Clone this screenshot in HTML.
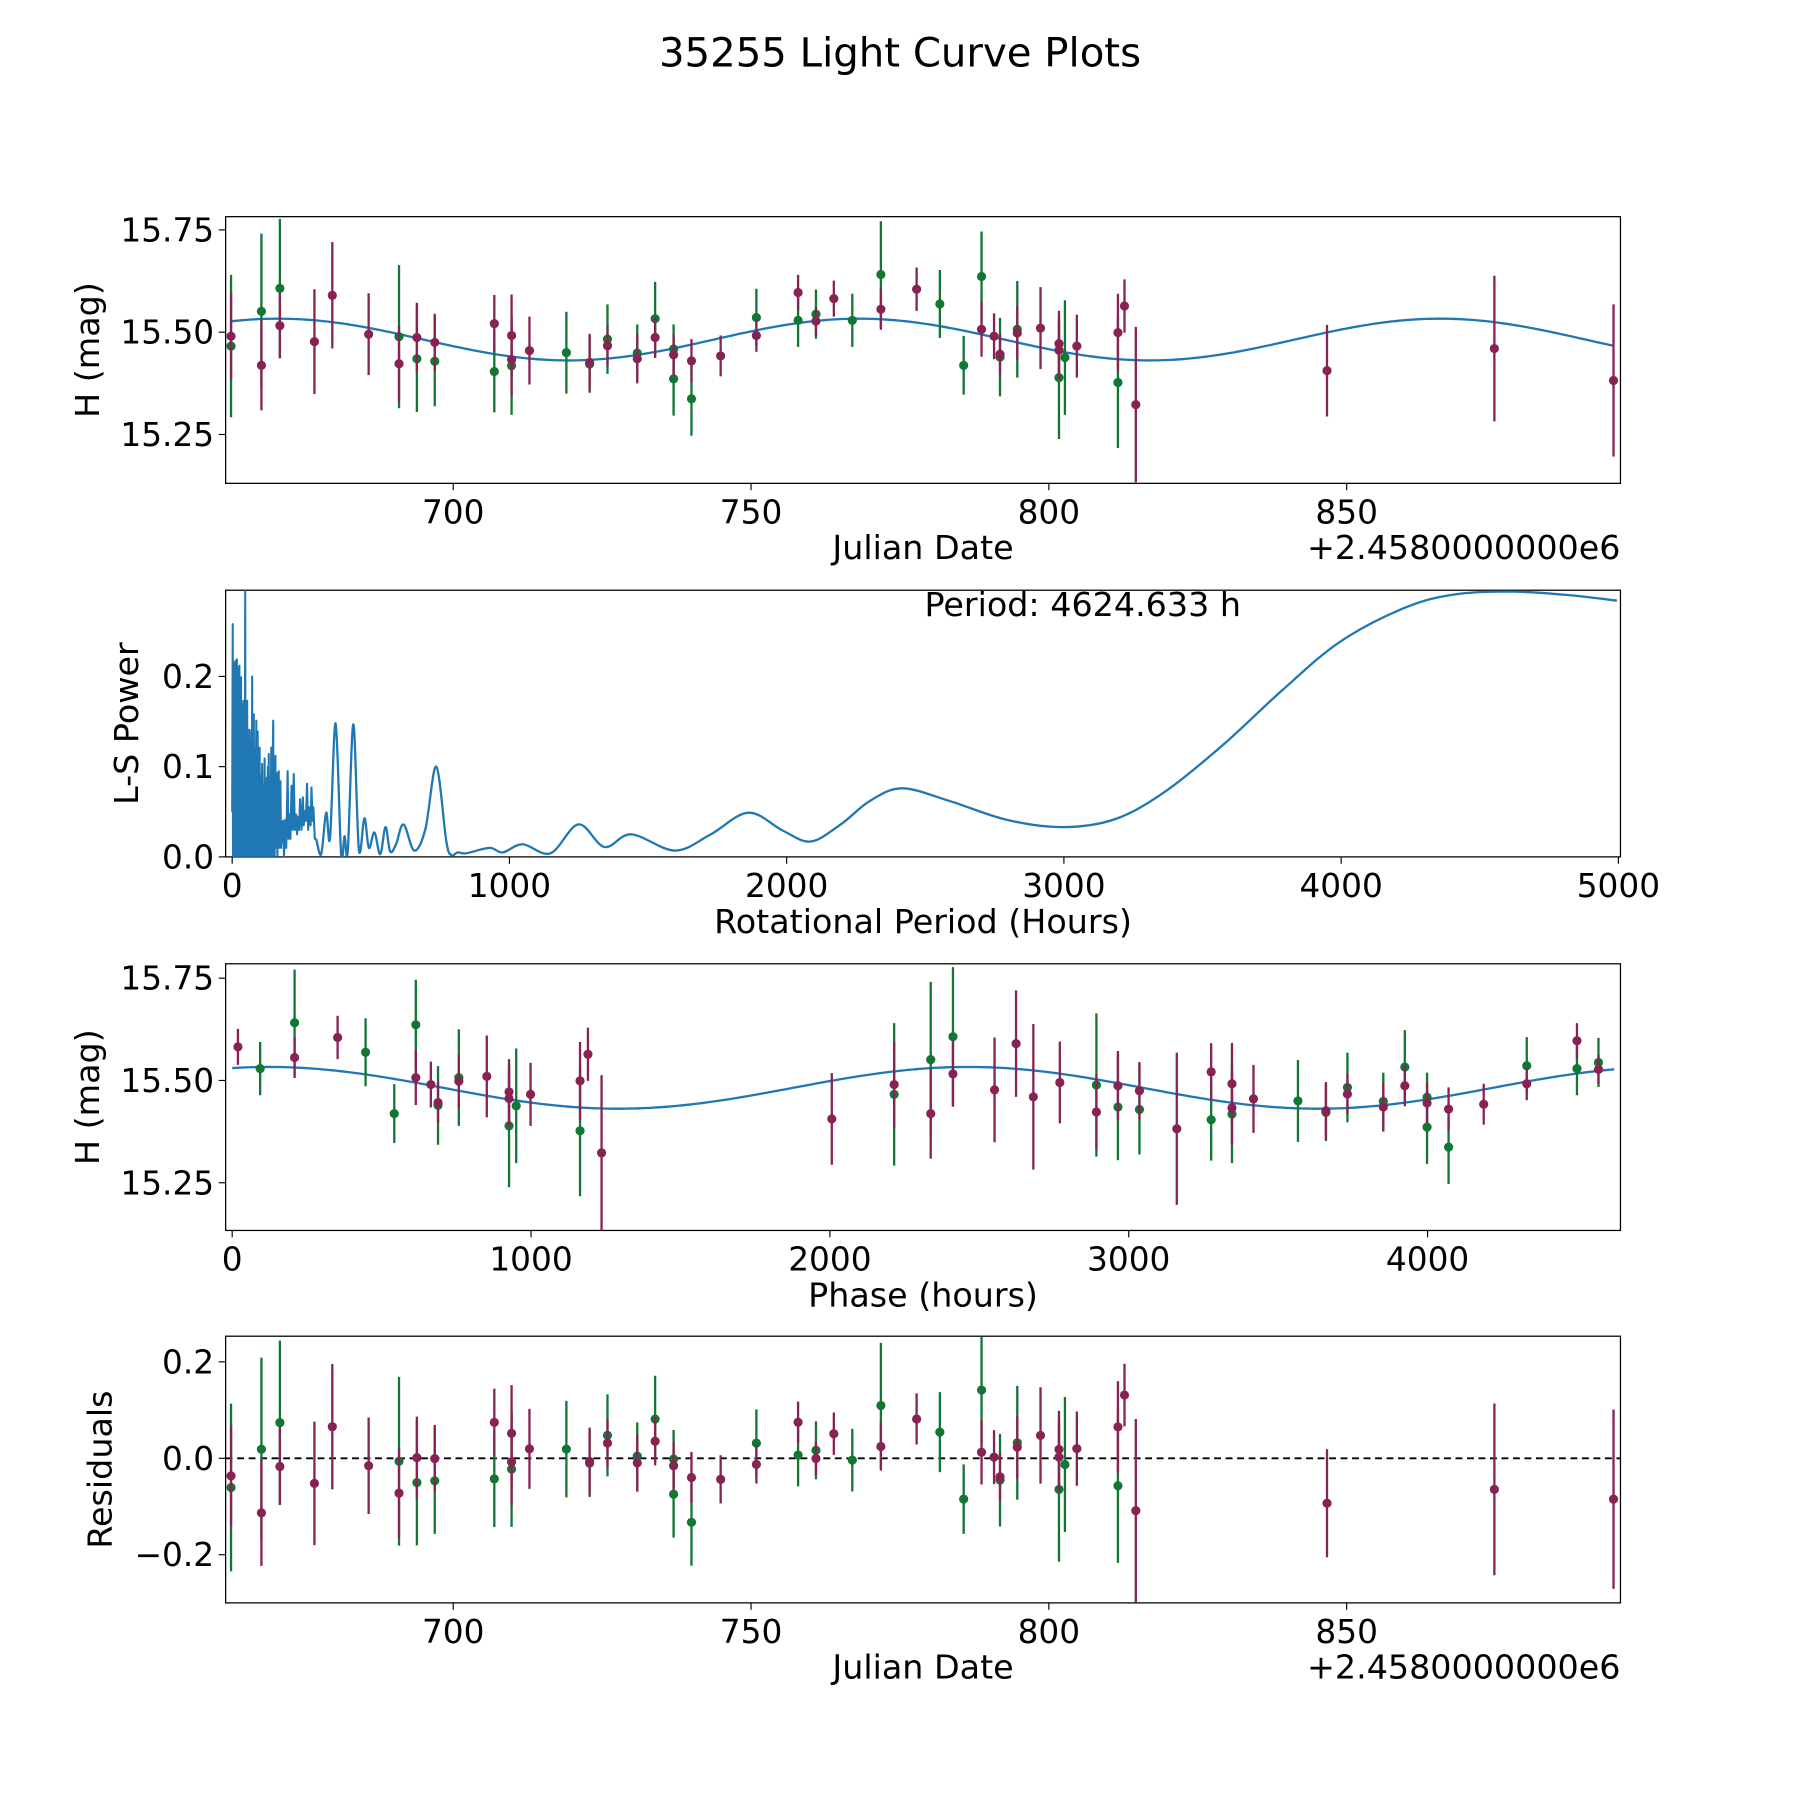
<!DOCTYPE html>
<html><head><meta charset="utf-8"><style>
html,body{margin:0;padding:0;background:#fff;}
svg{display:block;font-family:"DejaVu Sans","Liberation Sans",sans-serif;}
</style></head><body>
<svg id="fig" xmlns="http://www.w3.org/2000/svg" width="1800" height="1800" viewBox="0 0 1566 1566">
<rect width="1566" height="1566" fill="#fff"/>
<text x="783" y="58" font-size="35" text-anchor="middle">35255 Light Curve Plots</text>
<g id="layer"></g>
</svg>
<script>
// ---- Data ----
const greenDates=[662.7,667.8,670.9,690.9,693.9,696.9,706.9,709.8,719.0,722.9,725.9,730.9,733.9,737.0,737.0,740.0,750.9,757.9,760.9,767.0,771.8,781.7,785.7,788.7,791.8,794.7,801.7,802.7,811.6];
const greenMags=[15.466,15.551,15.607,15.489,15.435,15.429,15.404,15.418,15.450,15.422,15.483,15.449,15.533,15.459,15.386,15.337,15.536,15.529,15.544,15.529,15.641,15.569,15.419,15.636,15.439,15.507,15.389,15.438,15.377];
const greenErrs=[0.174,0.19,0.17,0.175,0.13,0.11,0.1,0.12,0.1,0.07,0.085,0.07,0.09,0.06,0.09,0.09,0.07,0.065,0.06,0.065,0.13,0.083,0.072,0.11,0.096,0.118,0.15,0.14,0.16];
const redDates=[662.7,667.8,670.9,676.7,679.7,685.8,690.9,693.9,696.9,706.9,709.8,709.8,712.8,722.9,725.9,730.9,733.9,737.0,740.0,744.9,750.9,757.9,760.9,763.9,771.8,777.8,788.7,790.8,791.8,794.7,798.6,801.7,801.7,804.7,811.6,812.7,814.6,846.7,874.8,894.8];
const redMags=[15.490,15.419,15.516,15.477,15.590,15.495,15.423,15.487,15.475,15.521,15.492,15.433,15.455,15.426,15.467,15.435,15.487,15.445,15.430,15.442,15.492,15.597,15.527,15.582,15.556,15.605,15.507,15.490,15.446,15.498,15.510,15.472,15.456,15.466,15.499,15.564,15.323,15.406,15.460,15.382];
const redErrs=[0.105,0.11,0.08,0.128,0.13,0.1,0.092,0.085,0.07,0.07,0.1,0.09,0.083,0.07,0.05,0.06,0.05,0.05,0.053,0.05,0.04,0.043,0.035,0.044,0.05,0.053,0.067,0.056,0.05,0.066,0.1,0.08,0.07,0.077,0.095,0.065,0.19,0.112,0.178,0.186];
// model fit parameters
const fitMean=15.482, fitAmp=0.051, fitPeakDay=670.6, fitPeriodDays=97.55;
const foldPeriodHours=4624.633, foldEpoch=763.1;
// Lomb-Scargle periodogram (dense region, straight segments)
const lsDensePeriods=[0,2,3,5,6,8,9,11,12,14,15,17,18,20,21,23,24,26,27,29,30,32,33,35,36,38,39,41,42,44,45,47,48,50,51,54,55,58,59,62,63,66,67,70,71,72,73,76,77,78,79,82,83,87,88,92,93,96,97,99,100,104,105,108,109,113,114,117,118,121,122,125,126,129,130,132,133,137,138,141,142,148,149,152,153,156,157,162,163,168,169,174,176,183,187,191,195,200,203,207,210,214,218,222,226,231,234,238,241,245,250,255,258,262,266,270,274,279,283,286,290,293,298,303];
const lsDensePowers=[0.05,0.258,0,0.2,0,0.215,0,0.217,0.02,0.2,0,0.219,0,0.18,0,0.21,0.01,0.212,0,0.17,0,0.199,0,0.15,0,0.17,0,0.173,0,0.14,0,0.295,0,0.12,0,0.173,0,0.13,0,0.141,0,0.12,0,0.14,0,0.2,0,0.11,0,0.158,0,0.12,0,0.151,0,0.139,0,0.1,0,0.121,0,0.09,0,0.103,0,0.08,0,0.109,0,0.07,0,0.088,0,0.1,0.01,0.114,0,0.09,0,0.121,0,0.151,0,0.1,0,0.112,0.01,0.093,0,0.095,0.01,0.084,0.01,0.04,0,0.041,0.01,0.095,0.02,0.047,0.02,0.079,0.03,0.092,0.03,0.047,0.025,0.044,0.03,0.064,0.03,0.066,0.035,0.051,0.04,0.081,0.03,0.055,0.035,0.077,0.04,0.055,0.02,0.02];
// smooth region (peaks and troughs)
const lsSmoothPeriods=[303,321,339,353,373,393,405,417,437,457,477,493,513,534,553,570,591,618,657,697,736,772,790,814,844,928,976,1048,1148,1249,1343,1440,1597,1726,1862,1987,2086,2195,2300,2417,2587,2795,2998,3186,3368,3577,3785,3994,4229,4411,4620,4825,4995];
const lsSmoothPowers=[0.020,0.003,0.049,0.021,0.148,0.002,0.023,0.007,0.147,0.008,0.043,0.010,0.027,0.003,0.033,0.006,0.014,0.036,0.007,0.031,0.100,0.018,0.002,0.005,0.004,0.010,0.005,0.014,0.004,0.036,0.011,0.025,0.007,0.025,0.049,0.029,0.017,0.036,0.062,0.076,0.062,0.041,0.033,0.042,0.073,0.125,0.184,0.238,0.276,0.291,0.294,0.290,0.284];
const magTicks=[15.25,15.50,15.75], magTickLabels=["15.25","15.50","15.75"];
const dateTicks=[700,750,800,850], dateTickLabels=["700","750","800","850"];
const powTicks=[0,0.1,0.2], powTickLabels=["0.0","0.1","0.2"];
const perTicks=[0,1000,2000,3000,4000,5000], perTickLabels=["0","1000","2000","3000","4000","5000"];
const phTicks=[0,1000,2000,3000,4000], phTickLabels=["0","1000","2000","3000","4000"];
const resTicks=[-0.2,0,0.2], resTickLabels=["\u22120.2","0.0","0.2"];

const GREEN="#117733", RED="#882255", BLUE="#1f77b4";
const NS="http://www.w3.org/2000/svg";
const layer=document.getElementById('layer');
function mk(tag,attrs,parent){const e=document.createElementNS(NS,tag);for(const k in attrs)e.setAttribute(k,attrs[k]);(parent||layer).appendChild(e);return e;}
function lin(d0,d1,r0,r1){return v=>r0+(v-d0)*(r1-r0)/(d1-d0);}
function model(t){return fitMean+fitAmp*Math.cos(2*Math.PI*(t-fitPeakDay)/fitPeriodDays);}
function phaseOf(t){const p=((t-foldEpoch)*24)%foldPeriodHours;return p<0?p+foldPeriodHours:p;}

const L=196.3,R=1409.8,H=232;
const tops=[188.5,513.5,838.5,1162.5];

function axes(name,top,xs,ys,xt,xtl,yt,ytl,xlabel,ylabel,ylx,offset){
  const g=mk('g',{});
  
  
  const fr=mk('rect',{x:L,y:top,width:R-L,height:H,fill:'none',stroke:'#000','stroke-width':1.1},g);
  
  
  xt.forEach((v,i)=>{const x=xs(v);mk('line',{x1:x,x2:x,y1:top+H,y2:top+H+6,stroke:'#000','stroke-width':1},g);
    const t=mk('text',{x:x,y:top+H+35,'font-size':28.5,'text-anchor':'middle'},g);t.textContent=xtl[i];
    
    });
  yt.forEach((v,i)=>{const y=ys(v);mk('line',{x1:L-6,x2:L,y1:y,y2:y,stroke:'#000','stroke-width':1},g);
    const t=mk('text',{x:L-10,y:y+10,'font-size':28.5,'text-anchor':'end'},g);t.textContent=ytl[i];
    
    });
  const xl=mk('text',{x:(L+R)/2,y:top+H+66,'font-size':29,'text-anchor':'middle'},g);xl.textContent=xlabel;
  
  
  const yl=mk('text',{x:ylx,y:top+H/2,'font-size':29,'text-anchor':'middle',transform:`rotate(-90 ${ylx} ${top+H/2})`},g);yl.textContent=ylabel;
  
  
  if(offset){const o=mk('text',{x:R,y:top+H+66,'font-size':29,'text-anchor':'end'},g);o.textContent=offset;
    
    }
  return g;
}
function clip(id,top){const d=mk('clipPath',{id:id});mk('rect',{x:L,y:top,width:R-L,height:H},d);}
function points(g,xsArr,ysArr,errs,color,xs,ys,nm){
  xsArr.forEach((xv,i)=>{const x=xs(xv),y=ys(ysArr[i]),e=errs[i];
    const ln=mk('line',{x1:x,x2:x,y1:ys(ysArr[i]+e),y2:ys(ysArr[i]-e),stroke:color,'stroke-width':2},g);
    
    
    const c=mk('circle',{cx:x,cy:y,r:4,fill:color},g);
    
    });
}

// Panel 1
const x1=lin(700,850,394.3,1171.6), y1=lin(15.25,15.75,378,200);
axes('light-curve-axes',tops[0],x1,y1,dateTicks,dateTickLabels,magTicks,magTickLabels,'Julian Date','H (mag)',86,'+2.4580000000e6');
clip('c1',tops[0]);
const g1=mk('g',{'clip-path':'url(#c1)'});
{let d='';const t0=662.7,t1=894.8;for(let i=0;i<=400;i++){const t=t0+(t1-t0)*i/400;d+=(i?'L':'M')+x1(t).toFixed(2)+' '+y1(model(t)).toFixed(2);}
 const p=mk('path',{d:d,fill:'none',stroke:BLUE,'stroke-width':2},g1);
 
 }
points(g1,greenDates,greenMags,greenErrs,GREEN,x1,y1,'green');
points(g1,redDates,redMags,redErrs,RED,x1,y1,'red');

// Panel 2
const x2=lin(0,5000,202,1408), y2=lin(0,0.1,745.5,667);
axes('periodogram-axes',tops[1],x2,y2,perTicks,perTickLabels,powTicks,powTickLabels,'Rotational Period (Hours)','L-S Power',120,null);
clip('c2',tops[1]);
const g2=mk('g',{'clip-path':'url(#c2)'});
{let d='';lsDensePeriods.forEach((p,i)=>{d+=(i?'L':'M')+x2(p).toFixed(2)+' '+y2(lsDensePowers[i]).toFixed(2);});
 const pd=mk('path',{d:d,fill:'none',stroke:BLUE,'stroke-width':1.8,'stroke-linejoin':'round'},g2);
 
 
 const P=lsSmoothPeriods.map((p,i)=>[x2(p),y2(lsSmoothPowers[i])]);
 let s='M'+P[0][0]+' '+P[0][1];
 for(let i=0;i<P.length-1;i++){const p0=P[Math.max(0,i-1)],p1=P[i],p2=P[i+1],p3=P[Math.min(P.length-1,i+2)];
   s+=`C${p1[0]+(p2[0]-p0[0])/6} ${p1[1]+(p2[1]-p0[1])/6} ${p2[0]-(p3[0]-p1[0])/6} ${p2[1]-(p3[1]-p1[1])/6} ${p2[0]} ${p2[1]}`;}
 const ps=mk('path',{d:s,fill:'none',stroke:BLUE,'stroke-width':2},g2);
 
 }
{const t=mk('text',{x:942,y:536,'font-size':29,'text-anchor':'middle'});t.textContent='Period: 4624.633 h';
 
 }

// Panel 3
const x3=lin(0,4000,202,1242), y3=lin(15.25,15.75,tops[2]+190.5,tops[2]+12.5);
axes('phase-axes',tops[2],x3,y3,phTicks,phTickLabels,magTicks,magTickLabels,'Phase (hours)','H (mag)',86,null);
clip('c3',tops[2]);
const g3=mk('g',{'clip-path':'url(#c3)'});
{let d='';for(let i=0;i<=400;i++){const ph=foldPeriodHours*i/400;d+=(i?'L':'M')+x3(ph).toFixed(2)+' '+y3(model(foldEpoch+ph/24)).toFixed(2);}
 const p=mk('path',{d:d,fill:'none',stroke:BLUE,'stroke-width':2},g3);
 
 }
points(g3,greenDates.map(phaseOf),greenMags,greenErrs,GREEN,x3,y3,'green-phase');
points(g3,redDates.map(phaseOf),redMags,redErrs,RED,x3,y3,'red-phase');

// Panel 4
const y4=lin(0,0.2,1268.7,1184.8);
axes('residuals-axes',tops[3],x1,y4,dateTicks,dateTickLabels,resTicks,resTickLabels,'Julian Date','Residuals',97,'+2.4580000000e6');
clip('c4',tops[3]);
const g4=mk('g',{'clip-path':'url(#c4)'});
{const z=mk('line',{x1:L,x2:R,y1:y4(0),y2:y4(0),stroke:'#000','stroke-width':1.6,'stroke-dasharray':'6 4'},g4);
 
 }
points(g4,greenDates,greenMags.map((m,i)=>m-model(greenDates[i])),greenErrs,GREEN,x1,y4,'green-residual');
points(g4,redDates,redMags.map((m,i)=>m-model(redDates[i])),redErrs,RED,x1,y4,'red-residual');
</script>
</body></html>
